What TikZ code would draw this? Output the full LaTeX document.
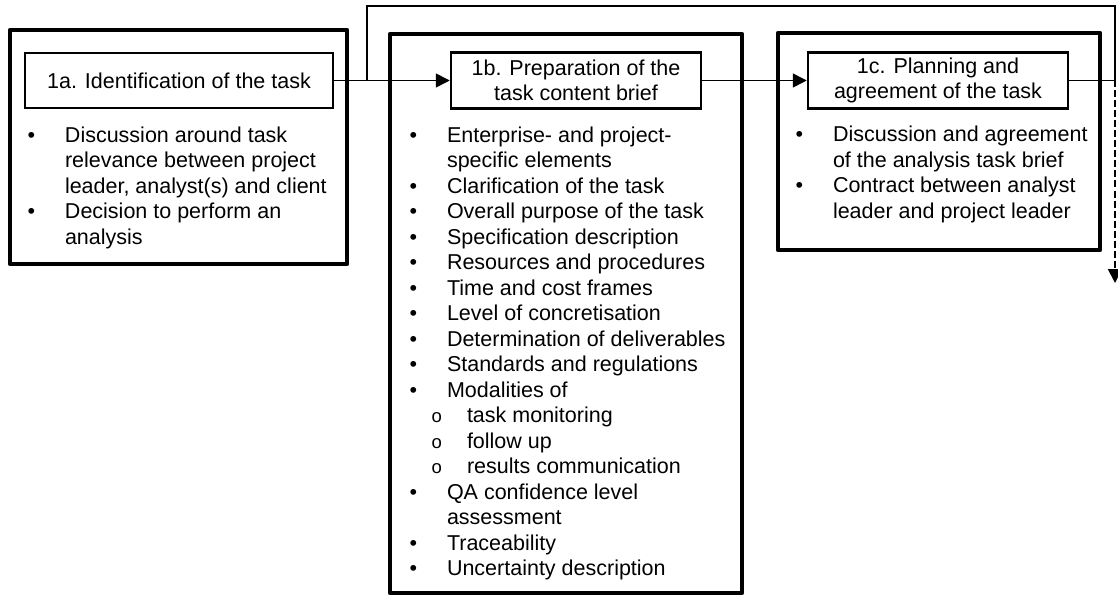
\documentclass[tikz,border=0pt]{standalone}
\usepackage{fontspec}
\setmainfont{Liberation Sans}
\usetikzlibrary{arrows.meta}
\newcommand\dgfont{\fontsize{21.5pt}{25.5pt}\selectfont}
\newcommand\lbul{\makebox[37.5pt][l]{•}}
\newcommand\lhind{\hspace*{37.5pt}}
\newcommand\lsub{\hspace*{22pt}\makebox[35.5pt][l]{\fontsize{18.5pt}{18.5pt}\selectfont o}}
\begin{document}
\begin{tikzpicture}[x=1pt,y=-1pt,
  outerbox/.style={draw, line width=4.5pt, inner sep=0pt, outer sep=0pt, line join=round},
  titlebox/.style={draw, line width=2.5pt, inner sep=0pt, align=center, font=\dgfont},
  listtext/.style={inner sep=0pt, outer sep=0pt, align=left, anchor=base west, font=\dgfont},
  conn/.style={line width=1.5pt},
  arr/.style={conn, -{Triangle[length=14pt,width=14pt]}},
  dasharr/.style={line width=2pt, dash pattern=on 7pt off 3pt, -{Triangle[length=14pt,width=14pt]}}]
\useasboundingbox (0,0) rectangle (1118,596);
% outer frames
\node[outerbox, minimum width=337pt, minimum height=234pt] (fA) at (178.5,147) {};
\node[outerbox, minimum width=352pt, minimum height=559pt] (fB) at (566,313.5) {};
\node[outerbox, minimum width=322pt, minimum height=217pt] (fC) at (939,141.5) {};
% titles
\node[titlebox, minimum width=308pt, minimum height=55pt] (tA) at (179,80.5) {1a. Identification of the task};
\node[titlebox, minimum width=250pt, minimum height=56pt] (tB) at (576,80.5) {1b. Preparation of the\\task content brief};
\node[titlebox, minimum width=260pt, minimum height=56pt] (tC) at (938,80.5) {1c. Planning and\\agreement of the task};
% lists (anchor = baseline of the last line)
\node[listtext] (lA) at (27.5,244) {\lbul Discussion around task\\
\lhind relevance between project\\
\lhind leader, analyst(s) and client\\
\lbul Decision to perform an\\
\lhind analysis};
\node[listtext] (lB) at (409.5,575.5) {\lbul Enterprise- and project-\\
\lhind specific elements\\
\lbul Clarification of the task\\
\lbul Overall purpose of the task\\
\lbul Specification description\\
\lbul Resources and procedures\\
\lbul Time and cost frames\\
\lbul Level of concretisation\\
\lbul Determination of deliverables\\
\lbul Standards and regulations\\
\lbul Modalities of\\
\lsub task monitoring\\
\lsub follow up\\
\lsub results communication\\
\lbul QA confidence level\\
\lhind assessment\\
\lbul Traceability\\
\lbul Uncertainty description};
\node[listtext] (lC) at (795.5,218.5) {\lbul Discussion and agreement\\
\lhind of the analysis task brief\\
\lbul Contract between analyst\\
\lhind leader and project leader};
% connectors
\coordinate (j1) at (367,80.5);
\coordinate (j2) at (1115,80.5);
\coordinate (tl) at (367,6);
\coordinate (tr) at (1115,6);
\coordinate (dn) at (1115,283);
\draw[arr] (tA.east) -- (tB.west);
\draw[arr] (tB.east) -- (tC.west);
\draw[conn] (j1) -- (tl) -- (tr) -- (j2);
\draw[conn] (tC.east) -- (j2);
\draw[dasharr] (j2) -- (dn);
\end{tikzpicture}
\end{document}
